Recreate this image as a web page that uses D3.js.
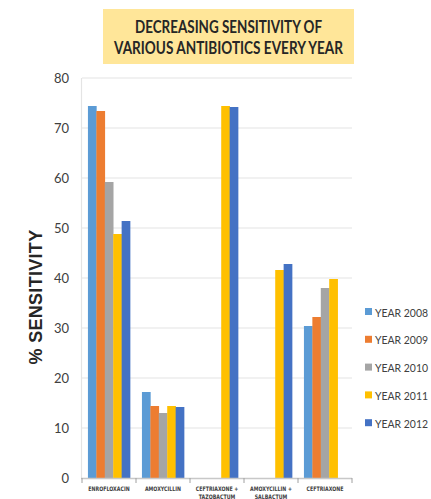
<!DOCTYPE html>
<html><head><meta charset="utf-8">
<script src="https://cdn.jsdelivr.net/npm/d3@7"></script>
<style>body{margin:0;background:#fff}svg{display:block}</style>
</head><body><svg id="c" width="431" height="499"></svg>
<script>
const categories = ["ENROFLOXACIN","AMOXYCILLIN","CEFTRIAXONE + TAZOBACTUM","AMOXYCILLIN + SALBACTUM","CEFTRIAXONE"];
const categoryLines = [["ENROFLOXACIN"],["AMOXYCILLIN"],["CEFTRIAXONE +","TAZOBACTUM"],["AMOXYCILLIN +","SALBACTUM"],["CEFTRIAXONE"]];
const seriesNames = ["YEAR 2008","YEAR 2009","YEAR 2010","YEAR 2011","YEAR 2012"];
const year2008 = [74.4, 17.2, null, null, 30.4];
const year2009 = [73.4, 14.4, null, null, 32.2];
const year2010 = [59.2, 13.0, null, null, 38.0];
const year2011 = [48.8, 14.4, 74.4, 41.6, 39.8];
const year2012 = [51.4, 14.2, 74.2, 42.8, null];
const colors = ["#5B9BD5","#ED7D31","#A5A5A5","#FFC000","#4472C4"];
const yTicks = [0,10,20,30,40,50,60,70,80];
const title = ["DECREASING SENSITIVITY OF","VARIOUS ANTIBIOTICS EVERY YEAR"];
const yLabel = "% SENSITIVITY";

const series = [year2008,year2009,year2010,year2011,year2012];
const svg = d3.select("#c");
const L=82, R=352, T=78, B=478;
const x = d3.scaleBand().domain(categories).range([L,R]).paddingInner(0.22).paddingOuter(0.11);
const xs = d3.scaleBand().domain(seriesNames).range([0,x.bandwidth()]);
const y = d3.scaleLinear().domain([0,80]).range([B,T]);

// gridlines
svg.append("g").selectAll("line").data(yTicks.filter(d=>d>0)).join("line")
  .attr("x1",L).attr("x2",R).attr("y1",d=>y(d)).attr("y2",d=>y(d))
  .attr("stroke","#e4e4e4").attr("stroke-width",1.2);
svg.append("line").attr("x1",L-0.5).attr("x2",L-0.5).attr("y1",T).attr("y2",B).attr("stroke","#e4e4e4").attr("stroke-width",1.2);

// y axis labels
const ya = svg.append("g").attr("transform",`translate(${L},0)`).call(d3.axisLeft(y).tickValues(yTicks).tickSize(0).tickPadding(13));
ya.select(".domain").remove();
ya.selectAll("text").attr("font-family","Lato,'Open Sans',sans-serif").attr("font-size",13).attr("fill","#404040");

// bars
series.forEach((s,i)=>{
  svg.append("g").selectAll("rect").data(s.map((v,j)=>({v,c:categories[j]})).filter(d=>d.v!=null)).join("rect")
    .attr("x",d=>x(d.c)+xs(seriesNames[i])).attr("width",xs.bandwidth()+0.3)
    .attr("y",d=>y(d.v)).attr("height",d=>B-y(d.v)).attr("fill",colors[i]);
});

// x axis
const bounds = d3.range(categories.length+1).map(k=>L+k*(R-L)/categories.length);
svg.append("line").attr("x1",L-1).attr("x2",R).attr("y1",B+0.5).attr("y2",B+0.5).attr("stroke","#c8c8c8").attr("stroke-width",1.5);
svg.append("g").selectAll("line").data(bounds).join("line")
  .attr("x1",d=>d).attr("x2",d=>d).attr("y1",B).attr("y2",B+5).attr("stroke","#a0a0a0");
const xl = svg.append("g");
categoryLines.forEach((lines,j)=>{
  const cx = x(categories[j])+x.bandwidth()/2;
  lines.forEach((t,k)=>{
    xl.append("text").attr("x",cx).attr("y",491+k*8).attr("text-anchor","middle")
      .attr("font-family","'DejaVu Sans Condensed','Liberation Sans Narrow',sans-serif").attr("font-size",6.2).attr("font-weight","bold")
      .attr("fill","#404040").attr("transform",`translate(${cx},0) scale(0.85,1) translate(${-cx},0)`).text(t);
  });
});

// y label
svg.append("text").attr("transform","translate(41.5,297) rotate(-90)").attr("text-anchor","middle")
  .attr("font-family","'Liberation Sans',Arial,sans-serif").attr("font-weight","bold").attr("font-size",18)
  .attr("fill","#262626").attr("letter-spacing",0.3).text(yLabel);

// title
svg.append("rect").attr("x",103).attr("y",9).attr("width",251).attr("height",55).attr("fill","#FFE699");
const titleWidths = [187, 229];
title.forEach((t,k)=>{
  svg.append("text").attr("x",228.5).attr("y",32.5+k*21.5).attr("text-anchor","middle")
    .attr("font-family","Lato,'Open Sans',sans-serif").attr("font-weight","bold").attr("font-size",16.5)
    .attr("textLength",titleWidths[k]).attr("lengthAdjust","spacingAndGlyphs")
    .attr("fill","#262626").text(t);
});

// legend
const lg = svg.append("g");
seriesNames.forEach((n,i)=>{
  const yy = 312+i*27.8;
  lg.append("rect").attr("x",365).attr("y",yy-4).attr("width",7).attr("height",7).attr("fill",colors[i]);
  lg.append("text").attr("x",375).attr("y",yy+4.5)
    .attr("font-family","Lato,'Open Sans',sans-serif").attr("font-size",11.5)
    .attr("textLength",53).attr("lengthAdjust","spacingAndGlyphs")
    .attr("fill","#404040").text(n);
});
</script></body></html>
